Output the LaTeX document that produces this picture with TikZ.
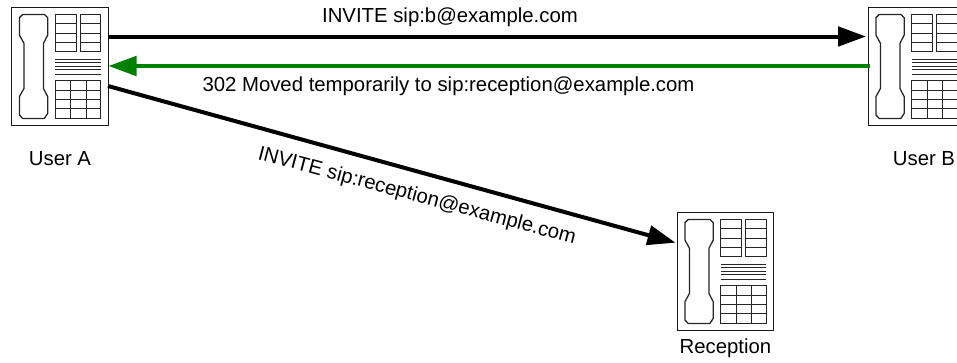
\documentclass[tikz,border=0pt]{standalone}
\usepackage{fontspec}
\setmainfont{Liberation Sans}
\usetikzlibrary{arrows.meta}
\definecolor{sipgreen}{RGB}{0,128,0}
\tikzset{
  x=0.75pt,y=-0.75pt,
  phonebox/.style={draw=black!90,line width=0.95pt,fill=white,minimum width=72.45pt,minimum height=88.2pt,inner sep=0pt,outer sep=0pt},
  phoneline/.style={draw=black!85,line width=0.75pt},
  msg/.style={line width=3pt,-{Triangle[length=21pt,width=14.5pt]}},
  lbl/.style={font=\fontsize{15.25}{18}\selectfont,inner sep=0pt,text=black},
  phone/.pic={
    \draw[phoneline,line width=0.95pt,line join=round] (11,6.7)--(32.7,6.7)--(36,10)--(36,27.3)--(31.7,35.7)--(31.7,80.7)--(36,89)--(36,105.7)--(32.7,110.7)--(11,110.7)--(7.7,107.3)--(7.7,89)--(12.3,80.7)--(12.3,35.7)--(7.7,27.3)--(7.7,10)--cycle;
    \foreach \xa/\xb in {43.7/64.3,68.3/89}{
      \draw[phoneline] (\xa,6.7) rectangle (\xb,44);
      \foreach \yy in {16,25.3,34.7}{\draw[phoneline] (\xa,\yy)--(\xb,\yy);}
    }
    \foreach \yy in {51.3,54.3,58.3,62,66.3}{\draw[phoneline] (43.7,\yy)--(89,\yy);}
    \draw[phoneline] (43.7,72.7) rectangle (89,110.7);
    \foreach \xx in {59,74.3}{\draw[phoneline] (\xx,72.7)--(\xx,110.7);}
    \foreach \yy in {82.3,91.7,101}{\draw[phoneline] (43.7,\yy)--(89,\yy);}
  }
}
\begin{document}
\begin{tikzpicture}
\useasboundingbox (0,0) rectangle (957,362);
\begin{scope}
\clip (0,0) rectangle (957,362);
\node[phonebox] (a) at (60,66.5) {};
\node[phonebox] (b) at (916.5,66.5) {};
\node[phonebox] (c) at (725.5,271.5) {};
\pic at (a.north west) {phone};
\pic at (b.north west) {phone};
\pic at (c.north west) {phone};
\end{scope}
\coordinate (a1) at (108.3,36.5);
\coordinate (b1) at (866,36.5);
\coordinate (b2) at (869.5,66);
\coordinate (a2) at (108.5,66);
\coordinate (a3) at (108,86);
\coordinate (c1) at (675.5,242.7);
\draw[msg] (a1) -- (b1);
\draw[msg,sipgreen] (b2) -- (a2);
\draw[msg] (a3) -- (c1);
\node[lbl] (t1) at (450,17) {INVITE sip:b@example.com};
\node[lbl] (t2) at (448.5,86) {302 Moved temporarily to sip:reception@example.com};
\node[lbl,rotate=-15] (t3) at (417,196.5) {INVITE sip:reception@example.com};
\node[lbl] (ua) at (60,159) {User A};
\node[lbl] (ub) at (924,159) {User B};
\node[lbl] (uc) at (725.5,348) {Reception};
\end{tikzpicture}
\end{document}
